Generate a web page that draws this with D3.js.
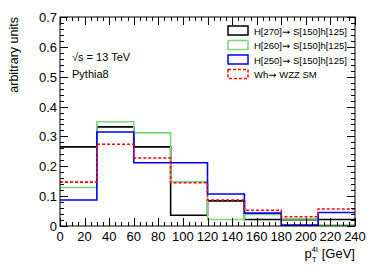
<!DOCTYPE html>
<html>
<head>
<meta charset="utf-8">
<script src="https://cdn.jsdelivr.net/npm/d3@7"></script>
<style>
  body { margin: 0; background: #fff; }
  svg { font-family: "Liberation Sans", Arial, sans-serif; }
  .hist { fill: none; }
  .arrow { font-family: "DejaVu Sans", sans-serif; }
</style>
</head>
<body>
<svg id="chart" width="374" height="268"></svg>
<script>
const binEdges = [0, 30, 60, 90, 120, 150, 180, 210, 240];
const h270 = [0.265, 0.332, 0.265, 0.036, 0.084, 0.022, 0.021, 0.022];
const h260 = [0.129, 0.349, 0.312, 0.148, 0.022, 0.039, 0.024, 0.003];
const h250 = [0.087, 0.315, 0.212, 0.212, 0.107, 0.043, 0.003, 0.045];
const whSM = [0.147, 0.274, 0.228, 0.145, 0.087, 0.053, 0.031, 0.057];

const series = [
  { name: ['H[270]', 'S[150]h[125]'], values: h270, color: '#000000', dash: null },
  { name: ['H[260]', 'S[150]h[125]'], values: h260, color: '#7fd47f', dash: null },
  { name: ['H[250]', 'S[150]h[125]'], values: h250, color: '#0000ff', dash: null },
  { name: ['Wh', 'WZZ SM'], values: whSM, color: '#ff0000', dash: '3,2' },
];

const xTicks = d3.range(0, 241, 20);
const yTicks = [0, 0.1, 0.2, 0.3, 0.4, 0.5, 0.6, 0.7];

const [padL, padR, padT, padB] = [60, 355, 17, 226];

const svg = d3.select('#chart');
const x = d3.scaleLinear().domain([0, 240]).range([padL, padR]);
const y = d3.scaleLinear().domain([0, 0.7]).range([padB, padT]);

// histograms, drawn back to front
const line = d3.line()
    .x(d => x(d[0]))
    .y(d => y(d[1]))
    .curve(d3.curveStepAfter);

svg.append('g')
    .attr('class', 'hists')
  .selectAll('path')
  .data(series)
  .join('path')
    .attr('class', 'hist')
    .attr('stroke', d => d.color)
    .attr('stroke-width', 1.6)
    .attr('stroke-dasharray', d => d.dash)
    .attr('d', d => line(d.values.map((v, i) => [binEdges[i], v])
        .concat([[binEdges[binEdges.length - 1], d.values[d.values.length - 1]]])));

// frame
svg.append('rect')
    .attr('x', padL).attr('y', padT)
    .attr('width', padR - padL).attr('height', padB - padT)
    .attr('fill', 'none').attr('stroke', '#000').attr('stroke-width', 1);

// ticks (ROOT style: inside, on all four sides)
const ticks = svg.append('g').attr('stroke', '#000').attr('stroke-width', 1);
d3.range(0, 241, 5).forEach(v => {
  const len = v % 20 === 0 ? 8 : 4;
  const px = Math.round(x(v)) + 0.5;
  ticks.append('line').attr('x1', px).attr('x2', px).attr('y1', padB).attr('y2', padB - len);
  ticks.append('line').attr('x1', px).attr('x2', px).attr('y1', padT).attr('y2', padT + len);
});
d3.range(0, 36).forEach(i => {
  const v = i * 0.02;
  const len = i % 5 === 0 ? 8 : 4;
  const py = Math.round(y(v)) + 0.5;
  ticks.append('line').attr('x1', padL).attr('x2', padL + len).attr('y1', py).attr('y2', py);
  ticks.append('line').attr('x1', padR).attr('x2', padR - len).attr('y1', py).attr('y2', py);
});

// tick labels
svg.append('g')
  .selectAll('text')
  .data(xTicks)
  .join('text')
    .attr('x', d => x(d))
    .attr('y', padB + 15)
    .attr('text-anchor', 'middle')
    .attr('font-size', 13)
    .text(d => d);

svg.append('g')
  .selectAll('text')
  .data(yTicks)
  .join('text')
    .attr('x', padL - 3)
    .attr('y', d => y(d) + 5)
    .attr('text-anchor', 'end')
    .attr('font-size', 13)
    .text(d => d === 0 ? '0' : d.toFixed(1));

// axis titles
const xt = svg.append('text')
    .attr('x', padR)
    .attr('y', 258)
    .attr('text-anchor', 'end')
    .attr('font-size', 13);
xt.append('tspan').text('p');
xt.append('tspan').attr('font-size', 8).attr('dy', 4).text('T');
xt.append('tspan').attr('font-size', 8).attr('dx', -5).attr('dy', -10).text('4l');
xt.append('tspan').attr('dx', 4).attr('dy', 6).text('[GeV]');

svg.append('text')
    .attr('transform', `translate(18,${padT}) rotate(-90)`)
    .attr('text-anchor', 'end')
    .attr('font-size', 12.5)
    .text('arbitrary units');

svg.append('text')
    .attr('x', 72).attr('y', 61)
    .attr('font-size', 11)
    .text('\u221As = 13 TeV');
svg.append('text')
    .attr('x', 72).attr('y', 78)
    .attr('font-size', 11)
    .text('Pythia8');

// legend
const legend = svg.append('g')
  .selectAll('g')
  .data(series)
  .join('g')
    .attr('transform', (d, i) => `translate(228,${26 + i * 14.5})`);

legend.append('rect')
    .attr('width', 20).attr('height', 9)
    .attr('fill', 'none')
    .attr('stroke', d => d.color)
    .attr('stroke-width', 1.5)
    .attr('stroke-dasharray', d => d.dash);

const lt = legend.append('text')
    .attr('x', 26).attr('y', 8.5)
    .attr('font-size', 9.5);
lt.append('tspan').text(d => d.name[0]);
lt.append('tspan').attr('class', 'arrow').text('\u2192 ');
lt.append('tspan').text(d => d.name[1]);
</script>
</body>
</html>
